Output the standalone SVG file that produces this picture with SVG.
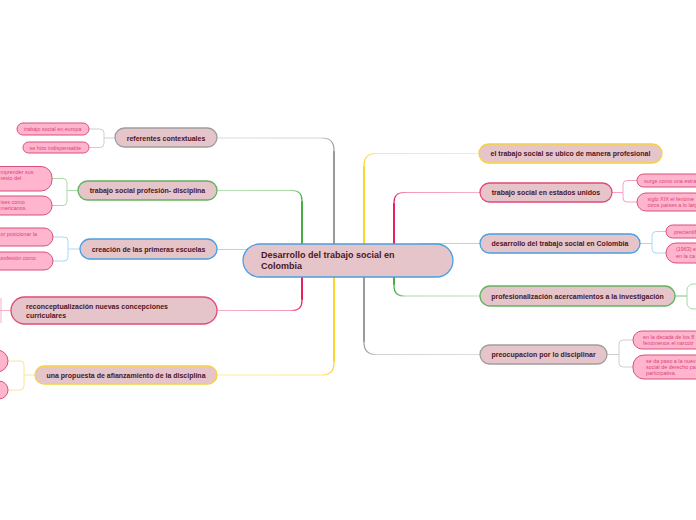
<svg xmlns="http://www.w3.org/2000/svg" width="696" height="520" viewBox="0 0 696 520">
<style>
.bg{fill:#ffffff}
.main{fill:#e5c5ca;stroke-width:1.3}
.mt{font-family:"Liberation Sans",Arial,sans-serif;font-weight:bold;font-size:7px;fill:#4b1526}
.ct{font-family:"Liberation Sans",Arial,sans-serif;font-weight:bold;font-size:9px;fill:#4b1526}
.leaf{fill:#ffb5cd;stroke:#d8507e;stroke-width:1}
.lt{font-family:"Liberation Sans",Arial,sans-serif;font-size:5.4px;fill:#d9457a}
.gray{stroke:#9e9e9e}.green{stroke:#62b35f}.blue{stroke:#4a9fe0}.red{stroke:#e24a78}.yellow{stroke:#f6d23c}
.c{fill:none;stroke-width:1.2;stroke-linecap:round}
.trunk{fill:none;stroke-width:2;stroke-linecap:round}
.br{fill:none;stroke-width:1}
</style>
<defs>
<linearGradient id="gGL" gradientUnits="userSpaceOnUse" x1="334" y1="0" x2="217" y2="0"><stop offset="0" stop-color="#9a9a9a"/><stop offset="0.12" stop-color="#d4d4d4"/><stop offset="1" stop-color="#dcdcdc"/></linearGradient>
<linearGradient id="gYL" gradientUnits="userSpaceOnUse" x1="334" y1="0" x2="217" y2="0"><stop offset="0" stop-color="#fbd52f"/><stop offset="0.12" stop-color="#fde88e"/><stop offset="1" stop-color="#fdeda6"/></linearGradient>
<linearGradient id="gNL" gradientUnits="userSpaceOnUse" x1="302" y1="0" x2="217" y2="0"><stop offset="0" stop-color="#47ad46"/><stop offset="0.15" stop-color="#a9d9a7"/><stop offset="1" stop-color="#b9e0b8"/></linearGradient>
<linearGradient id="gRL" gradientUnits="userSpaceOnUse" x1="302" y1="0" x2="217" y2="0"><stop offset="0" stop-color="#e8205c"/><stop offset="0.15" stop-color="#f59bbb"/><stop offset="1" stop-color="#f7afc7"/></linearGradient>
<linearGradient id="gYR" gradientUnits="userSpaceOnUse" x1="364" y1="0" x2="479" y2="0"><stop offset="0" stop-color="#fbd52f"/><stop offset="0.12" stop-color="#fde88e"/><stop offset="1" stop-color="#fdeda6"/></linearGradient>
<linearGradient id="gRR" gradientUnits="userSpaceOnUse" x1="394" y1="0" x2="480" y2="0"><stop offset="0" stop-color="#e8205c"/><stop offset="0.15" stop-color="#f59bbb"/><stop offset="1" stop-color="#f7afc7"/></linearGradient>
<linearGradient id="gNR" gradientUnits="userSpaceOnUse" x1="394" y1="0" x2="480" y2="0"><stop offset="0" stop-color="#47ad46"/><stop offset="0.15" stop-color="#a9d9a7"/><stop offset="1" stop-color="#b9e0b8"/></linearGradient>
<linearGradient id="gGR" gradientUnits="userSpaceOnUse" x1="364" y1="0" x2="480" y2="0"><stop offset="0" stop-color="#9a9a9a"/><stop offset="0.12" stop-color="#d4d4d4"/><stop offset="1" stop-color="#dcdcdc"/></linearGradient>
</defs>
<rect class="bg" x="0" y="0" width="696" height="520"/>

<g id="connectors">
  <path class="c" stroke="url(#gGL)" d="M217,138 H322 Q334,138 334,150 V262"/>
  <path class="trunk" stroke="#9a9a9a" d="M334,152 V262"/>
  <path class="c" stroke="url(#gNL)" d="M217,190.5 H292 Q302,190.5 302,200.5 V262"/>
  <path class="trunk" stroke="#47ad46" d="M302,202 V262"/>
  <path class="c" stroke="#a9d8f7" d="M217,249.5 H260"/>
  <path class="c" stroke="url(#gRL)" d="M217,310.5 H292 Q302,310.5 302,300.5 V262"/>
  <path class="trunk" stroke="#e8205c" d="M302,299 V262"/>
  <path class="c" stroke="url(#gYL)" d="M217,375 H322 Q334,375 334,363 V262"/>
  <path class="trunk" stroke="#fbd52f" d="M334,361 V262"/>
  <path class="c" stroke="url(#gYR)" d="M479,153.5 H376 Q364,153.5 364,165.5 V262"/>
  <path class="trunk" stroke="#fbd52f" d="M364,167 V262"/>
  <path class="c" stroke="url(#gRR)" d="M480,192.5 H404 Q394,192.5 394,202.5 V262"/>
  <path class="trunk" stroke="#e8205c" d="M394,204 V262"/>
  <path class="c" stroke="#a9d8f7" d="M480,243.5 H420"/>
  <path class="c" stroke="url(#gNR)" d="M480,296 H404 Q394,296 394,286 V262"/>
  <path class="trunk" stroke="#47ad46" d="M394,284 V262"/>
  <path class="c" stroke="url(#gGR)" d="M480,354.5 H376 Q364,354.5 364,342.5 V262"/>
  <path class="trunk" stroke="#9a9a9a" d="M364,341 V262"/>
  <path class="br" stroke="#cfcfcf" d="M115,138 H104 M89,129 H100 Q104,129 104,133 V143.5 Q104,147.5 100,147.5 H89"/>
  <path class="br" stroke="#acd9aa" d="M78,190.5 H67 M52,178.5 H63 Q67,178.5 67,182.5 V201.5 Q67,205.5 63,205.5 H52"/>
  <path class="br" stroke="#a9d8f7" d="M80,249 H68 M53,237 H64 Q68,237 68,241 V257 Q68,261 64,261 H53"/>
  <path class="br" stroke="#f7afc7" d="M11,310.5 H0 M1,298 V323"/>
  <path class="br" stroke="#fde68a" d="M35,375 H24 M8,361 H20 Q24,361 24,365 V386 Q24,390 20,390 H8"/>
  <path class="br" stroke="#f5a3c0" d="M612,192.5 H623 M637,180.5 H627 Q623,180.5 623,184.5 V198 Q623,202 627,202 H637"/>
  <path class="br" stroke="#a9d8f7" d="M640,243.5 H652 M666,231.5 H656 Q652,231.5 652,235.5 V249 Q652,253 656,253 H666"/>
  <path class="br" stroke="#7cc47a" d="M675,296 H687"/>
  <path class="br" stroke="#cfcfcf" d="M607,354.5 H619 M633,340 H623 Q619,340 619,344 V363 Q619,367 623,367 H633"/>
</g>

<g id="center">
  <rect class="main" x="243" y="244" width="210" height="33" rx="16.5" stroke="#4a9fe0"/>
  <text class="ct" x="261" y="258">Desarrollo del trabajo social en</text>
  <text class="ct" x="261" y="269">Colombia</text>
</g>

<g id="referentes">
  <rect class="main gray" x="115" y="128" width="102" height="19" rx="9.5"/>
  <text class="mt" x="166" y="140.5" text-anchor="middle">referentes contextuales</text>
</g>
<g id="ref-europa">
  <rect class="leaf" x="17" y="123" width="72" height="12" rx="6"/>
  <text class="lt" x="24" y="131">trabajo social en europa</text>
</g>
<g id="ref-indispensable">
  <rect class="leaf" x="23" y="142" width="66" height="11" rx="5.5"/>
  <text class="lt" x="29.5" y="149.5">se hizo indispensable</text>
</g>

<g id="profesion">
  <rect class="main green" x="78" y="181" width="139" height="19" rx="9.5"/>
  <text class="mt" x="147.5" y="193" text-anchor="middle">trabajo social profesión- disciplina</text>
</g>
<g id="prof-1">
  <rect class="leaf" x="-40" y="166.5" width="92" height="24.5" rx="11"/>
  <text class="lt" x="0.5" y="174">mprender sus</text>
  <text class="lt" x="0.5" y="180">resto del</text>
</g>
<g id="prof-2">
  <rect class="leaf" x="-40" y="196" width="92" height="19" rx="9"/>
  <text class="lt" x="0.5" y="203.5">ises como</text>
  <text class="lt" x="0.5" y="209.5">mericanos.</text>
</g>

<g id="escuelas">
  <rect class="main blue" x="80" y="239" width="137" height="20" rx="10"/>
  <text class="mt" x="148.5" y="251.5" text-anchor="middle">creación de las primeras escuelas</text>
</g>
<g id="esc-1">
  <rect class="leaf" x="-40" y="228" width="93" height="18" rx="9"/>
  <text class="lt" x="0.5" y="235.5">or posicionar la</text>
</g>
<g id="esc-2">
  <rect class="leaf" x="-40" y="252" width="93" height="18" rx="9"/>
  <text class="lt" x="-1" y="259.5">profesión como</text>
</g>

<g id="reconceptualizacion">
  <rect class="main red" x="11" y="297" width="206" height="27" rx="13.5"/>
  <text class="mt" x="26" y="308.5">reconceptualización nuevas concepciones</text>
  <text class="mt" x="26" y="317.5">curriculares</text>
</g>

<g id="propuesta">
  <rect class="main yellow" x="35" y="366" width="182" height="18" rx="9"/>
  <text class="mt" x="126" y="377.5" text-anchor="middle">una propuesta de afianzamiento de la disciplina</text>
</g>
<g id="prop-1">
  <rect class="leaf" x="-60" y="350" width="68" height="22" rx="11"/>
</g>
<g id="prop-2">
  <rect class="leaf" x="-60" y="381" width="68" height="18" rx="9"/>
</g>

<g id="ubico">
  <rect class="main yellow" x="479" y="144" width="183" height="19" rx="9.5"/>
  <text class="mt" x="570.5" y="156" text-anchor="middle">el trabajo social se ubico de manera profesional</text>
</g>

<g id="estados-unidos">
  <rect class="main red" x="480" y="183" width="132" height="19" rx="9.5"/>
  <text class="mt" x="546" y="195" text-anchor="middle">trabajo social en estados unidos</text>
</g>
<g id="eu-1">
  <rect class="leaf" x="637" y="174" width="100" height="13" rx="6.5"/>
  <text class="lt" x="644" y="182.5">surge como una estra</text>
</g>
<g id="eu-2">
  <rect class="leaf" x="637" y="193" width="100" height="18" rx="9"/>
  <text class="lt" x="647.5" y="200.5">siglo XIX el fenóme</text>
  <text class="lt" x="647.5" y="206.5">otros países a lo larg</text>
</g>

<g id="colombia">
  <rect class="main blue" x="480" y="234" width="160" height="19" rx="9.5"/>
  <text class="mt" x="560" y="246" text-anchor="middle">desarrollo del trabajo social en Colombia</text>
</g>
<g id="col-1">
  <rect class="leaf" x="666" y="225" width="80" height="13" rx="6.5"/>
  <text class="lt" x="674" y="233.5">precientifi</text>
</g>
<g id="col-2">
  <rect class="leaf" x="666" y="243" width="80" height="20" rx="10"/>
  <text class="lt" x="676" y="251">(1963) e</text>
  <text class="lt" x="676" y="257.5">en la ca</text>
</g>

<g id="investigacion">
  <rect class="main green" x="480" y="286" width="195" height="20" rx="10"/>
  <text class="mt" x="577.5" y="298.5" text-anchor="middle">profesionalización acercamientos a la investigación</text>
</g>
<g id="inv-1">
  <rect x="687" y="284" width="60" height="25" rx="6" fill="#ffffff" stroke="#a8d8a6" stroke-width="1"/>
</g>

<g id="disciplinar">
  <rect class="main gray" x="480" y="345" width="127" height="19" rx="9.5"/>
  <text class="mt" x="543.5" y="357" text-anchor="middle">preocupacion por lo disciplinar</text>
</g>
<g id="dis-1">
  <rect class="leaf" x="633" y="331" width="100" height="18" rx="9"/>
  <text class="lt" x="643" y="338.5">en la decada de los 8</text>
  <text class="lt" x="643" y="344.5">fenómenos el narcotr</text>
</g>
<g id="dis-2">
  <rect class="leaf" x="633" y="355" width="100" height="24" rx="11"/>
  <text class="lt" x="646" y="362.5">se da paso a la nuev</text>
  <text class="lt" x="646" y="368.5">social de derecho pa</text>
  <text class="lt" x="646" y="374.5">participativa.</text>
</g>
</svg>
